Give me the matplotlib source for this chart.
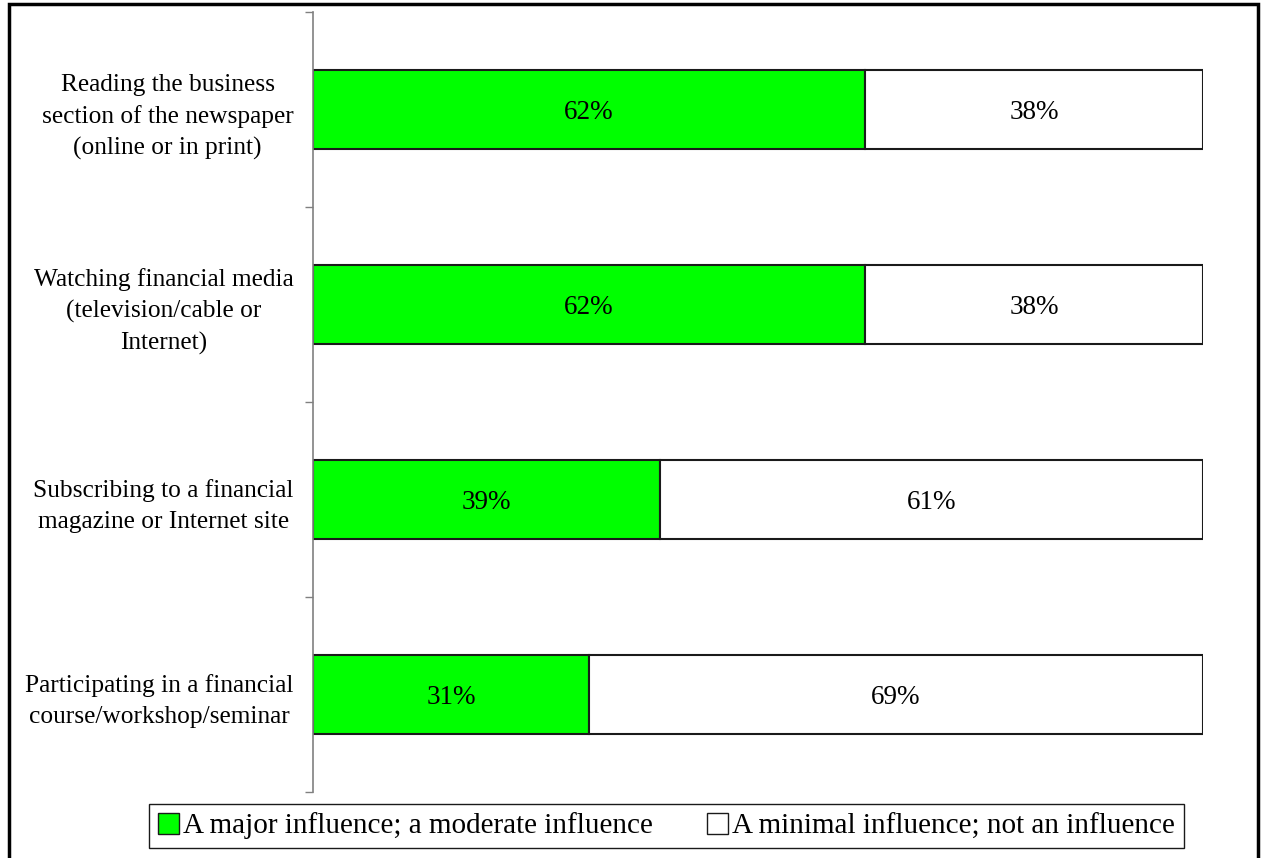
import matplotlib
matplotlib.use("Agg")
import matplotlib.pyplot as plt
from matplotlib.patches import Patch, Rectangle

plt.rcParams.update({"font.family": ["Liberation Serif", "DejaVu Serif"], "font.size": 19})

GREEN, EDGE, GREY = "#00ff00", "#1a1a1a", "#808080"

categories = [
    "Reading the business\nsection of the newspaper\n(online or in print)",
    "Watching financial media\n(television/cable or\nInternet)",
    "Subscribing to a financial\nmagazine or Internet site",
    "Participating in a financial\ncourse/workshop/seminar",
]
major = [62, 62, 39, 31]
minimal = [38, 38, 61, 69]
series_names = ["A major influence; a moderate influence",
                "A minimal influence; not an influence"]

fig = plt.figure(figsize=(12.63, 8.58), dpi=100)
ax = fig.add_axes([313 / 1263, 1 - 792 / 858, 890 / 1263, 780 / 858])

y = range(len(categories))
ax.barh(y, major, height=0.41, color=GREEN, edgecolor=EDGE, lw=1.5)
ax.barh(y, minimal, left=major, height=0.41, color="white", edgecolor=EDGE, lw=1.5)
for i, (a, b) in enumerate(zip(major, minimal)):
    ax.text(a / 2, i, f"{a}%", ha="center", va="center_baseline", fontsize=19.5)
    ax.text(a + b / 2, i, f"{b}%", ha="center", va="center_baseline", fontsize=19.5)

ax.set_xlim(0, 100)
ax.set_ylim(len(categories) - 0.5, -0.5)
ax.set_xticks([])
ax.set_yticks([i - 0.5 for i in range(len(categories) + 1)])
ax.set_yticklabels([])
ax.set_yticks(list(y), minor=True)
ax.set_yticklabels(categories, minor=True, multialignment="center",
                   linespacing=1.5, fontsize=18.3)
ax.tick_params(axis="y", which="major", length=6, color=GREY, width=1)
ax.tick_params(axis="y", which="minor", length=0, pad=14)
for s in ["top", "right", "bottom"]:
    ax.spines[s].set_visible(False)
ax.spines["left"].set_color(GREY)
ax.spines["left"].set_linewidth(1.2)

handles = [Patch(facecolor=GREEN, edgecolor=EDGE), Patch(facecolor="white", edgecolor=EDGE)]
fig.legend(handles, series_names, loc="center", ncol=2,
           bbox_to_anchor=(666.5 / 1263, 1 - 826 / 858),
           fancybox=False, edgecolor=EDGE, framealpha=1, handlelength=0.72,
           handleheight=0.72, handletextpad=0.15, borderaxespad=0, borderpad=0.3,
           columnspacing=1.85, fontsize=21)

fig.patches.append(Rectangle((9 / 1263, -0.02), 1249 / 1263, 1.02 - 4 / 858,
                             transform=fig.transFigure, fill=False, lw=2.5, ec="black"))

fig.savefig("out.png", dpi=100)
